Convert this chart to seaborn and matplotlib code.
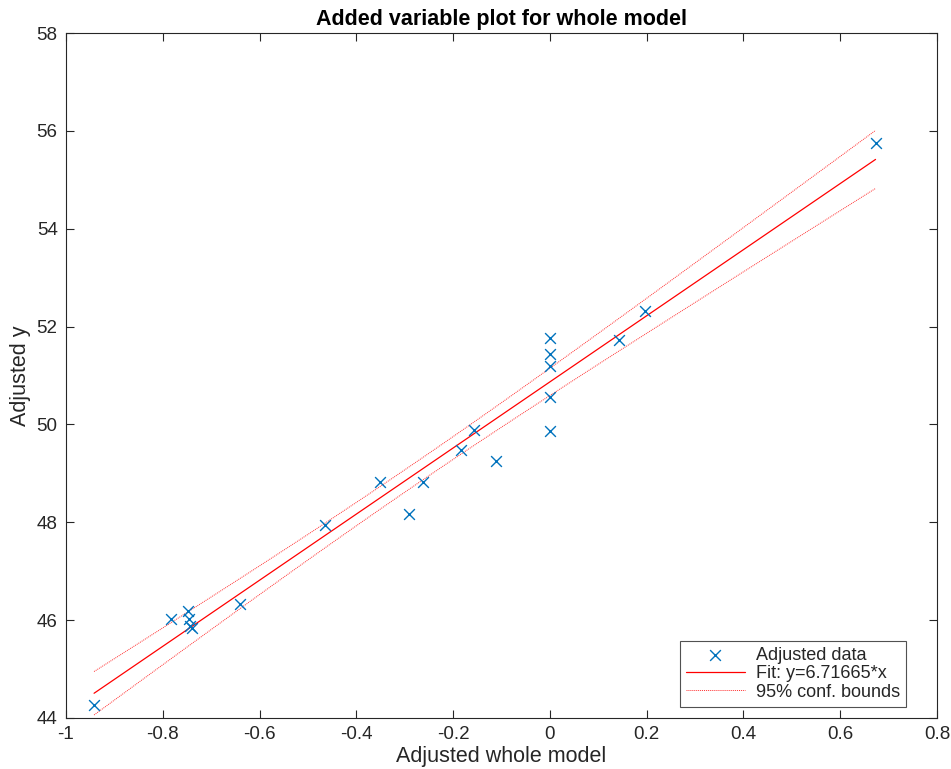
import numpy as np
import pandas as pd
import matplotlib
matplotlib.use("Agg")
import matplotlib.pyplot as plt
import seaborn as sns

# Data
adj_x = [-0.942, -0.783, -0.748, -0.745, -0.743, -0.740, -0.640, -0.465,
         -0.351, -0.291, -0.262, -0.183, -0.157, -0.111,
         0.0, 0.0, 0.0, 0.0, 0.0, 0.143, 0.196, 0.673]
adj_y = [44.27, 46.02, 46.19, 46.03, 45.89, 45.83, 46.33, 47.95,
         48.83, 48.17, 48.83, 49.48, 49.89, 49.26,
         51.76, 51.44, 51.20, 50.57, 49.86, 51.72, 52.32, 55.75]
fit_label = "Fit: y=6.71665*x"
t_crit = 2.262  # t(0.975, residual df of the full model)

x_ticks = [-1, -0.8, -0.6, -0.4, -0.2, 0, 0.2, 0.4, 0.6, 0.8]
x_ticklabels = ["-1", "-0.8", "-0.6", "-0.4", "-0.2", "0", "0.2", "0.4", "0.6", "0.8"]
y_ticks = [44, 46, 48, 50, 52, 54, 56, 58]

sns.set_theme(style="white")
plt.rcParams['font.family'] = ['Liberation Sans', 'DejaVu Sans']

x = np.array(adj_x)
y = np.array(adj_y)
n = len(x)
slope, intercept = np.polyfit(x, y, 1)
resid = y - (slope * x + intercept)
s = np.sqrt(np.sum(resid ** 2) / (n - 2))
xbar = x.mean()
sxx = np.sum((x - xbar) ** 2)
xg = np.linspace(x.min(), x.max(), 100)
yg = slope * xg + intercept
half = t_crit * s * np.sqrt(1.0 / n + (xg - xbar) ** 2 / sxx)

df_pts = pd.DataFrame({"x": x, "y": y})
df_fit = pd.DataFrame({"x": xg, "fit": yg, "lo": yg - half, "hi": yg + half})

fig = plt.figure(figsize=(9.51, 7.69), dpi=100)
ax = fig.add_axes([66 / 951, 51 / 769, 871 / 951, 685 / 769])

blue = "#0072BD"
sns.scatterplot(data=df_pts, x="x", y="y", marker="x", color=blue, s=60,
                linewidth=1.0, ax=ax, label="Adjusted data", zorder=3)
sns.lineplot(data=df_fit, x="x", y="fit", color="red", linewidth=0.9, ax=ax,
             label=fit_label)
sns.lineplot(data=df_fit, x="x", y="hi", color="#ff3030", linewidth=0.7,
             linestyle=(0, (1, 1)), ax=ax, label="95% conf. bounds")
sns.lineplot(data=df_fit, x="x", y="lo", color="#ff3030", linewidth=0.7,
             linestyle=(0, (1, 1)), ax=ax, legend=False)

ax.set_xlim(-1, 0.8)
ax.set_ylim(44, 58)
ax.set_xticks(x_ticks)
ax.set_xticklabels(x_ticklabels)
ax.set_yticks(y_ticks)
ax.tick_params(direction="in", length=6, width=0.8, colors="#262626",
               labelsize=13.5, top=True, right=True, bottom=True, left=True,
               pad=6)
for lab in ax.get_xticklabels() + ax.get_yticklabels():
    lab.set_color("#262626")
for sp in ax.spines.values():
    sp.set_color("#262626")
    sp.set_linewidth(0.8)

ax.set_xlabel("Adjusted whole model", fontsize=15.5, color="#262626", labelpad=2)
ax.set_ylabel("Adjusted y", fontsize=15.5, color="#262626", labelpad=4)
ax.set_title("Added variable plot for whole model", fontsize=15.5,
             fontweight="bold", color="black", pad=6)

leg = ax.legend(loc="lower right", bbox_to_anchor=(0.9644, 0.016),
                fontsize=13, frameon=True, fancybox=False,
                edgecolor="#262626", borderpad=0.35, handlelength=3.25,
                labelspacing=0.08, borderaxespad=0.0, handletextpad=0.6)
leg.get_frame().set_linewidth(0.8)

fig.savefig("out.png", dpi=100)
